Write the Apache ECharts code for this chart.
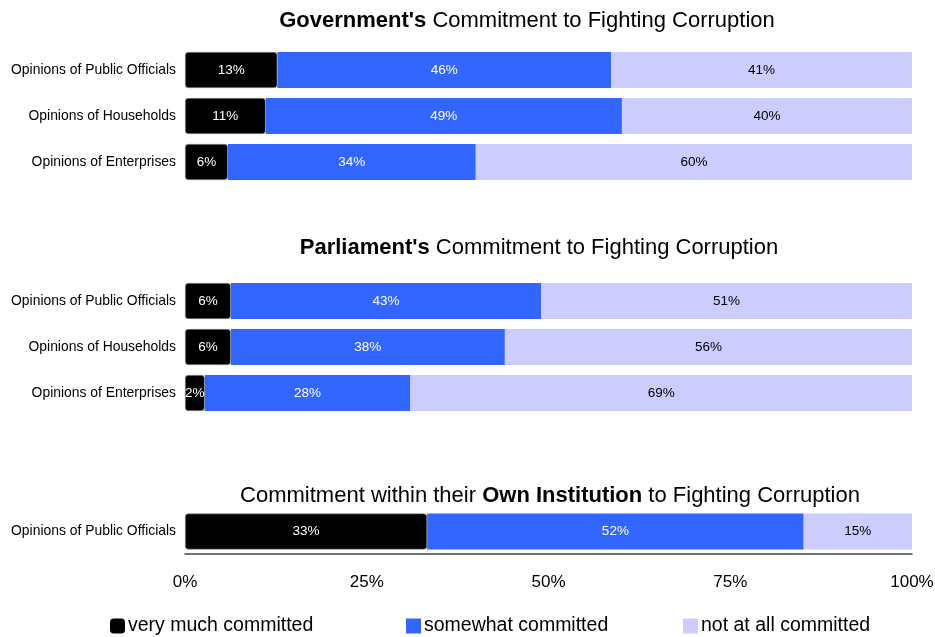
<!DOCTYPE html>
<html>
<head>
<meta charset="utf-8">
<script src="https://cdn.jsdelivr.net/npm/echarts@6/dist/echarts.min.js"></script>
<style>
html, body { margin: 0; padding: 0; background: #fff; }
#chart { width: 935px; height: 637px; }
</style>
</head>
<body>
<div id="chart"></div>
<script>
//-------------------data--------------
var seriesNames = ['very much committed', 'somewhat committed', 'not at all committed'];
var colors = ['#000000', '#3366ff', '#ccccff'];

var govCategories = ['Opinions of Public Officials', 'Opinions of Households', 'Opinions of Enterprises'];
var govVery = [12.7, 11.1, 5.9];
var govSomewhat = [45.9, 49.0, 34.1];
var govNot = [41.4, 39.9, 60.0];
var govLabels = [[13, 11, 6], [46, 49, 34], [41, 40, 60]];

var parlCategories = ['Opinions of Public Officials', 'Opinions of Households', 'Opinions of Enterprises'];
var parlVery = [6.3, 6.3, 2.7];
var parlSomewhat = [42.7, 37.7, 28.3];
var parlNot = [51.0, 56.0, 69.0];
var parlLabels = [[6, 6, 2], [43, 38, 28], [51, 56, 69]];

var ownCategories = ['Opinions of Public Officials'];
var ownVery = [33.3];
var ownSomewhat = [51.8];
var ownNot = [14.9];
var ownLabels = [[33], [52], [15]];

var tickLabels = ['0%', '25%', '50%', '75%', '100%'];

//-------------------layout--------------
var font = '"Liberation Sans", Arial, sans-serif';
var grids = [
  { left: 185, right: 23, top: 47, height: 138, outerBoundsMode: 'none' },
  { left: 185, right: 23, top: 278, height: 138, outerBoundsMode: 'none' },
  { left: 185, right: 23, top: 509, height: 45, outerBoundsMode: 'none' }
];

function makeSeries(gridIndex, values, labels) {
  var list = [];
  for (var i = 0; i < 3; i++) {
    (function (i) {
      var s = {
        name: seriesNames[i],
        type: 'bar',
        stack: 'g' + gridIndex,
        xAxisIndex: gridIndex,
        yAxisIndex: gridIndex,
        barWidth: 36,
        data: values[i],
        itemStyle: { color: colors[i] },
        label: {
          show: true,
          position: 'inside',
          fontFamily: font,
          fontSize: 13.5,
          color: i === 2 ? '#000' : '#fff',
          formatter: function (p) { return labels[i][p.dataIndex] + '%'; }
        },
        emphasis: { disabled: true }
      };
      if (i === 0) {
        s.itemStyle.borderRadius = 3;
        s.itemStyle.borderColor = '#999';
        s.itemStyle.borderWidth = 0.6;
        s.z = 3;
      }
      list.push(s);
    })(i);
  }
  return list;
}

var xAxes = [], yAxes = [];
var cats = [govCategories, parlCategories, ownCategories];
for (var g = 0; g < 3; g++) {
  var last = g === 2;
  xAxes.push({
    type: 'value',
    gridIndex: g,
    min: 0,
    max: 100,
    interval: 25,
    axisLine: { show: last, lineStyle: { color: '#444', width: 1.5 } },
    axisTick: { show: false },
    splitLine: { show: false },
    axisLabel: {
      show: last,
      margin: 20,
      fontFamily: font,
      fontSize: 17,
      color: '#000',
      formatter: function (v) { return tickLabels[v / 25]; }
    }
  });
  yAxes.push({
    type: 'category',
    gridIndex: g,
    inverse: true,
    data: cats[g],
    axisLine: { show: false },
    axisTick: { show: false },
    axisLabel: { margin: 9, fontFamily: font, fontSize: 13.9, color: '#000' }
  });
}

var titleRich = {
  b: { fontFamily: font, fontSize: 22, fontWeight: 'bold', color: '#000' },
  n: { fontFamily: font, fontSize: 22, fontWeight: 'normal', color: '#000' }
};

function legendFor(idx, left) {
  return {
    left: left,
    top: 616,
    padding: 0,
    data: [{ name: seriesNames[idx], icon: idx === 0 ? 'roundRect' : 'rect', itemStyle: { borderWidth: 0 } }],
    itemWidth: 15,
    itemHeight: 15,
    selectedMode: false,
    textStyle: { fontFamily: font, fontSize: 19.5, color: '#000', padding: [0, 0, 0, -2] }
  };
}

var option = {
  animation: false,
  backgroundColor: '#fff',
  title: [
    { text: '{b|Government\'s}{n| Commitment to Fighting Corruption}', left: 522, top: 5, textAlign: 'center', textStyle: { rich: titleRich } },
    { text: '{b|Parliament\'s}{n| Commitment to Fighting Corruption}', left: 534, top: 232, textAlign: 'center', textStyle: { rich: titleRich } },
    { text: '{n|Commitment within their }{b|Own Institution}{n| to Fighting Corruption}', left: 545, top: 480, textAlign: 'center', textStyle: { rich: titleRich } }
  ],
  legend: [legendFor(0, 110), legendFor(1, 406), legendFor(2, 683)],
  grid: grids,
  xAxis: xAxes,
  yAxis: yAxes,
  series: [].concat(
    makeSeries(0, [govVery, govSomewhat, govNot], govLabels),
    makeSeries(1, [parlVery, parlSomewhat, parlNot], parlLabels),
    makeSeries(2, [ownVery, ownSomewhat, ownNot], ownLabels)
  )
};

echarts.init(document.getElementById('chart')).setOption(option);
</script>
</body>
</html>
